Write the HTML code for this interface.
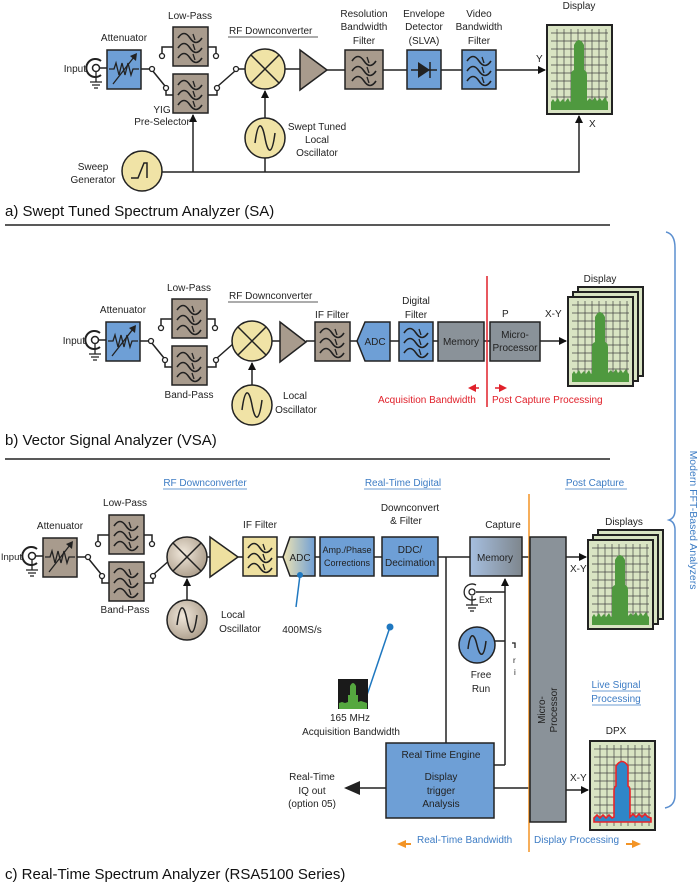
<!DOCTYPE html>
<html><head><meta charset="utf-8"><style>
html,body{margin:0;padding:0;background:#fff}
svg{display:block;font-family:"Liberation Sans",sans-serif}
text{font-size:10px;fill:#222}
.c{text-anchor:middle}
.t{font-size:15px;fill:#111}
.bl{fill:#3d7cc4}
.rd{fill:#e0202a}
</style></head><body>
<svg width="700" height="885" viewBox="0 0 700 885" xmlns="http://www.w3.org/2000/svg">
<defs>
<marker id="ah" markerWidth="8" markerHeight="8" refX="7" refY="4" orient="auto" markerUnits="userSpaceOnUse"><path d="M0 0 L8 4 L0 8Z" fill="#111"/></marker>
<linearGradient id="gadc" x1="0" x2="1"><stop offset="0" stop-color="#eee3b2"/><stop offset="1" stop-color="#6f9fd6"/></linearGradient>
<linearGradient id="gmem" x1="0" x2="1"><stop offset="0" stop-color="#a6bfe0"/><stop offset="1" stop-color="#7e868d"/></linearGradient>
<radialGradient id="gmix" cx="0.4" cy="0.4" r="0.7"><stop offset="0" stop-color="#f0e7da"/><stop offset="1" stop-color="#a69784"/></radialGradient>
<g id="filt">
<path d="M5 11 q6 -9 12 0 t12 0 M5 21 q6 -9 12 0 t12 0 M5 31 q6 -9 12 0 t12 0" fill="none" stroke="#222" stroke-width="1.6"/>
<path d="M20 7 l2 6 M20 17 l2 6 M20 27 l2 6" stroke="#222" stroke-width="1.3"/>
</g>
<g id="grid"><path d="M4 8H61M4 16H61M4 24H61M4 32H61M4 40H61M4 48H61M4 56H61M4 64H61M4 72H61M4 80H61M10 4V85M17 4V85M24 4V85M31 4V85M38 4V85M45 4V85M52 4V85M59 4V85" stroke="#444" stroke-width="0.7"/></g>
<g id="disp">
<rect x="0" y="0" width="65" height="89" fill="#d9e4c3" stroke="#222" stroke-width="2"/>
<use href="#grid"/>
<path d="M4 85 L4 77 l2 -3 l2 3 l3 -4 l2 4 l3 -3 l2 3 l3 -4 l2 4 L24 76 L24 50 Q24 46 27 45 L27 20 Q32 10 37 20 L37 45 Q40 46 40 50 L40 76 l3 -3 l2 3 l3 -4 l2 4 l3 -3 l2 3 l3 -4 l2 4 L61 77 L61 85Z" fill="#4f993f"/>
</g>
<g id="dispstack">
<rect x="10" y="-10" width="65" height="89" fill="#d9e4c3" stroke="#222" stroke-width="2"/>
<rect x="5" y="-5" width="65" height="89" fill="#d9e4c3" stroke="#222" stroke-width="2"/>
<use href="#disp"/>
</g>
<g id="fe">
<circle cx="96" cy="68" r="3.5" fill="#fff" stroke="#222" stroke-width="1.5"/>
<path d="M101 61 A9 9 0 1 0 101 75" fill="none" stroke="#222" stroke-width="2"/>
<path d="M96 72 V82 M90 82 H102 M92 85 H100 M94 88 H98" stroke="#222" stroke-width="1.3"/>
<path d="M100 68 H107" stroke="#222" stroke-width="1.5"/>
<rect x="107" y="50" width="34" height="39" fill="currentColor" stroke="#222" stroke-width="1.5"/>
<polyline points="109,69 114,69 116,63 119,75 122,63 125,75 128,63 131,75 133,69 139,69" fill="none" stroke="#222" stroke-width="1.3"/>
<path d="M113 84 L134 57" stroke="#222" stroke-width="1.3"/><path d="M137 53 L136 61 L130 56Z" fill="#222"/>
<path d="M141 69 H150 M152 70 L165 86 M166 90 V95 H173 M162 53 V47 H173 M208 47 H216 V53 M208 95 H217 V90 M218 86 L235 71" stroke="#222" stroke-width="1.5" fill="none"/>
<circle cx="152" cy="69" r="2.5" fill="#fff" stroke="#222" stroke-width="1.3"/>
<circle cx="166" cy="88" r="2.5" fill="#fff" stroke="#222" stroke-width="1.3"/>
<circle cx="162" cy="56" r="2.5" fill="#fff" stroke="#222" stroke-width="1.3"/>
<circle cx="216" cy="56" r="2.5" fill="#fff" stroke="#222" stroke-width="1.3"/>
<circle cx="217" cy="88" r="2.5" fill="#fff" stroke="#222" stroke-width="1.3"/>
<circle cx="236" cy="69" r="2.5" fill="#fff" stroke="#222" stroke-width="1.3"/>
<rect x="173" y="27" width="35" height="39" fill="#a89b8d" stroke="#222" stroke-width="1.5"/>
<use href="#filt" x="173" y="27"/>
<rect x="173" y="74" width="35" height="39" fill="#a89b8d" stroke="#222" stroke-width="1.5"/>
<use href="#filt" x="173" y="74"/>
</g>
<g id="mix"><circle r="20" stroke="#222" stroke-width="1.5"/><path d="M-14 -14 L14 14 M14 -14 L-14 14" stroke="#222" stroke-width="1.5"/></g>
<g id="sine"><circle r="20" stroke="#222" stroke-width="1.5"/><path d="M-10 5 C-7 -18 -3 -16 0 0 S7 18 10 -5" fill="none" stroke="#222" stroke-width="1.5"/></g>
</defs>

<!-- ===== Section a ===== -->
<use href="#fe" style="color:#6e9fd6"/>
<text x="86" y="72" text-anchor="end">Input</text>
<text class="c" x="124" y="41">Attenuator</text>
<text class="c" x="190" y="19">Low-Pass</text>
<text class="c" x="162" y="113">YIG</text>
<text class="c" x="162" y="125">Pre-Selector</text>
<path d="M238 69 H245" stroke="#222" stroke-width="1.5"/>
<use href="#mix" x="265" y="69" fill="#f0e3a6"/>
<text x="229" y="34">RF Downconverter</text><path d="M228 37 H318" stroke="#222" stroke-width="0.8"/>
<path d="M285 69 H300" stroke="#222" stroke-width="1.5"/>
<polygon points="300,50 327,70 300,90" fill="#a89b8d" stroke="#222" stroke-width="1.5"/>
<path d="M327 70 H345 M383 70 H407 M441 70 H462 M496 70 H545" stroke="#222" stroke-width="1.5" marker-end="url(#ah)"/>
<rect x="345" y="50" width="38" height="39" fill="#a89b8d" stroke="#222" stroke-width="1.5"/><use href="#filt" x="347" y="50"/>
<rect x="407" y="50" width="34" height="39" fill="#6e9fd6" stroke="#222" stroke-width="1.5"/>
<path d="M411 70 H437 M430 62 V78" stroke="#222" stroke-width="1.5"/><polygon points="418,62 430,70 418,78" fill="#222"/>
<rect x="462" y="50" width="34" height="39" fill="#6e9fd6" stroke="#222" stroke-width="1.5"/><use href="#filt" x="462" y="50"/>
<text class="c" x="364" y="17">Resolution</text><text class="c" x="364" y="30">Bandwidth</text><text class="c" x="364" y="44">Filter</text>
<text class="c" x="424" y="17">Envelope</text><text class="c" x="424" y="30">Detector</text><text class="c" x="424" y="44">(SLVA)</text>
<text class="c" x="479" y="17">Video</text><text class="c" x="479" y="30">Bandwidth</text><text class="c" x="479" y="44">Filter</text>
<use href="#disp" x="547" y="25"/>
<text class="c" x="579" y="9">Display</text>
<text x="536" y="62">Y</text><text x="589" y="127">X</text>
<use href="#sine" x="265" y="138" fill="#f0e3a6"/>
<text class="c" x="317" y="130">Swept Tuned</text><text class="c" x="317" y="143">Local</text><text class="c" x="317" y="156">Oscillator</text>
<circle cx="142" cy="171" r="20" fill="#f0e3a6" stroke="#222" stroke-width="1.5"/>
<path d="M131 178 H138 L144 163 H147 V178" fill="none" stroke="#222" stroke-width="1.5"/>
<text class="c" x="93" y="170">Sweep</text><text class="c" x="93" y="183">Generator</text>
<path d="M162 172 H579 V116" fill="none" stroke="#222" stroke-width="1.5" marker-end="url(#ah)"/>
<path d="M193 172 V115" stroke="#222" stroke-width="1.5" marker-end="url(#ah)"/>
<path d="M265 172 V158" stroke="#222" stroke-width="1.5"/>
<path d="M265 118 V91" stroke="#222" stroke-width="1.5" marker-end="url(#ah)"/>
<text class="t" x="5" y="216">a)  Swept Tuned Spectrum Analyzer (SA)</text>
<path d="M5 225 H610" stroke="#222" stroke-width="1.5"/>

<!-- ===== Section b ===== -->
<g transform="translate(-1,272)"><use href="#fe" style="color:#6e9fd6"/></g>
<text x="85" y="344" text-anchor="end">Input</text>
<text class="c" x="123" y="313">Attenuator</text>
<text class="c" x="189" y="291">Low-Pass</text>
<text class="c" x="189" y="398">Band-Pass</text>
<path d="M237 341 H232" stroke="#222" stroke-width="1.5"/>
<use href="#mix" x="252" y="341" fill="#f0e3a6"/>
<text x="229" y="299">RF Downconverter</text><path d="M228 302 H318" stroke="#222" stroke-width="0.8"/>
<path d="M272 341 H280 M306 341 H315 M350 341 H357 M390 341 H399 M433 341 H438 M484 341 H490" stroke="#222" stroke-width="1.5"/>
<polygon points="280,322 306,342 280,362" fill="#a89b8d" stroke="#222" stroke-width="1.5"/>
<rect x="315" y="322" width="35" height="39" fill="#a89b8d" stroke="#222" stroke-width="1.5"/><use href="#filt" x="315" y="322"/>
<text class="c" x="332" y="318">IF Filter</text>
<polygon points="365,322 390,322 390,361 365,361 357,341" fill="#6e9fd6" stroke="#222" stroke-width="1.5"/>
<text class="c" x="375" y="345">ADC</text>
<rect x="399" y="322" width="34" height="39" fill="#6e9fd6" stroke="#222" stroke-width="1.5"/><use href="#filt" x="399" y="322"/>
<text class="c" x="416" y="304">Digital</text><text class="c" x="416" y="318">Filter</text>
<rect x="438" y="322" width="46" height="39" fill="#8a9299" stroke="#222" stroke-width="1.5"/>
<text class="c" x="461" y="345">Memory</text>
<rect x="490" y="322" width="50" height="39" fill="#8a9299" stroke="#222" stroke-width="1.5"/>
<text class="c" x="515" y="338">Micro-</text><text class="c" x="515" y="351">Processor</text>
<text x="502" y="317">P</text><text x="545" y="317">X-Y</text>
<path d="M540 341 H566" stroke="#222" stroke-width="1.5" marker-end="url(#ah)"/>
<use href="#dispstack" x="568" y="297"/>
<text class="c" x="600" y="282">Display</text>
<path d="M487 276 V407" stroke="#e0202a" stroke-width="1.5"/>
<path d="M479 388 H472" stroke="#e0202a" stroke-width="1.5"/><polygon points="468,388 476,384 476,392" fill="#e0202a"/>
<path d="M495 388 H502" stroke="#e0202a" stroke-width="1.5"/><polygon points="507,388 499,384 499,392" fill="#e0202a"/>
<text class="rd" x="378" y="403">Acquisition Bandwidth</text>
<text class="rd" x="492" y="403">Post Capture Processing</text>
<use href="#sine" x="252" y="405" fill="#f0e3a6"/>
<path d="M252 385 V363" stroke="#222" stroke-width="1.5" marker-end="url(#ah)"/>
<text class="c" x="295" y="399">Local</text><text class="c" x="296" y="413">Oscillator</text>
<text class="t" x="5" y="445">b)  Vector Signal Analyzer (VSA)</text>
<path d="M5 459 H610" stroke="#222" stroke-width="1.5"/>

<!-- brace -->
<path d="M666 232 Q675 234 675 248 L675 510 Q675 518 669 520 Q675 522 675 530 L675 795 Q675 806 665 808" fill="none" stroke="#5b8fcf" stroke-width="1.5"/>
<text class="c bl" transform="translate(690,520) rotate(90)" style="font-size:10.5px">Modern FFT-Based Analyzers</text>

<!-- ===== Section c ===== -->
<text class="c bl" x="205" y="486">RF Downconverter</text><path d="M163 489 H247" stroke="#3d7cc4" stroke-width="0.8"/>
<text class="c bl" x="403" y="486">Real-Time Digital</text><path d="M364 489 H441" stroke="#3d7cc4" stroke-width="0.8"/>
<text class="c bl" x="595" y="486">Post Capture</text><path d="M565 489 H627" stroke="#3d7cc4" stroke-width="0.8"/>
<g transform="translate(-64,488)"><use href="#fe" style="color:#a89b8d"/></g>
<text x="22" y="560" text-anchor="end" style="font-size:9.5px">Input</text>
<text class="c" x="60" y="529">Attenuator</text>
<text class="c" x="125" y="506">Low-Pass</text>
<text class="c" x="125" y="613">Band-Pass</text>
<use href="#mix" x="187" y="557" fill="url(#gmix)"/>
<path d="M207 557 H210 M238 557 H243 M277 557 H283 M315 557 H320 M374 557 H382 M438 557 H470 M522 557 H530" stroke="#222" stroke-width="1.5"/>
<polygon points="210,537 238,557 210,577" fill="#eee0a0" stroke="#222" stroke-width="1.5"/>
<rect x="243" y="537" width="34" height="39" fill="#eee0a0" stroke="#222" stroke-width="1.5"/><use href="#filt" x="243" y="537"/>
<text class="c" x="260" y="528">IF Filter</text>
<polygon points="290,537 315,537 315,576 290,576 283,557" fill="url(#gadc)" stroke="#222" stroke-width="1.5"/>
<text class="c" x="300" y="561">ADC</text>
<path d="M300 575 L296 607" stroke="#1f78c0" stroke-width="1.5"/><circle cx="300" cy="575" r="3" fill="#1f78c0"/>
<text class="c" x="302" y="633">400MS/s</text>
<rect x="320" y="537" width="54" height="39" fill="#6e9fd6" stroke="#222" stroke-width="1.5"/>
<text class="c" x="347" y="553" style="font-size:9px">Amp./Phase</text><text class="c" x="347" y="566" style="font-size:9px">Corrections</text>
<rect x="382" y="537" width="56" height="39" fill="#6e9fd6" stroke="#222" stroke-width="1.5"/>
<text class="c" x="410" y="553">DDC/</text><text class="c" x="410" y="566">Decimation</text>
<text class="c" x="410" y="511">Downconvert</text><text class="c" x="406" y="524">&amp; Filter</text>
<rect x="470" y="537" width="52" height="39" fill="url(#gmem)" stroke="#222" stroke-width="1.5"/>
<text class="c" x="495" y="561">Memory</text>
<text class="c" x="503" y="528">Capture</text>
<use href="#sine" x="187" y="620" fill="url(#gmix)"/>
<path d="M187 600 V579" stroke="#222" stroke-width="1.5" marker-end="url(#ah)"/>
<text class="c" x="233" y="618">Local</text><text class="c" x="240" y="632">Oscillator</text>
<path d="M446 557 V743" stroke="#222" stroke-width="1.5"/>
<path d="M505 765 V579" stroke="#222" stroke-width="1.5" marker-end="url(#ah)"/>
<path d="M505 765 H494 M494 641 H505 M476 592 H505" stroke="#222" stroke-width="1.5"/>
<circle cx="472" cy="592" r="3" fill="#fff" stroke="#222" stroke-width="1.3"/>
<path d="M476 585 A8 8 0 1 0 476 599 M472 596 V605 M466 605 H478 M468 608 H476 M470 611 H474" fill="none" stroke="#222" stroke-width="1.3"/>
<text x="479" y="603" style="font-size:9px">Ext</text>
<circle cx="477" cy="645" r="18" fill="#6e9fd6" stroke="#222" stroke-width="1.5"/>
<path d="M468 649 C470 632 474 632 477 645 S484 658 486 641" fill="none" stroke="#222" stroke-width="1.5"/>
<text class="c" x="481" y="678">Free</text><text class="c" x="481" y="692">Run</text>
<path d="M512 643 H515 V648" fill="none" stroke="#222" stroke-width="1.3"/>
<text x="513" y="663" style="font-size:8px">r</text><text x="514" y="675" style="font-size:8px">i</text>
<path d="M390 627 L367 695" stroke="#1f78c0" stroke-width="1.5"/><circle cx="390" cy="627" r="3.5" fill="#1f78c0"/>
<rect x="338" y="679" width="30" height="30" fill="#1a1a1a"/>
<path d="M339 709 L339 703 l3 -1 l3 1 L348 702 L348 695 L350 695 L350 686 Q353 680 356 686 L356 695 L358 695 L358 702 l3 -1 l3 1 L367 703 L367 709Z" fill="#55a83f"/>
<text class="c" x="350" y="721">165 MHz</text><text class="c" x="351" y="735">Acquisition Bandwidth</text>
<rect x="386" y="743" width="108" height="75" fill="#6e9fd6" stroke="#222" stroke-width="1.5"/>
<text class="c" x="441" y="758">Real Time Engine</text>
<text class="c" x="441" y="780">Display</text><text class="c" x="441" y="794">trigger</text><text class="c" x="441" y="807">Analysis</text>
<path d="M386 788 H346" stroke="#222" stroke-width="1.5"/><polygon points="344,788 360,781 360,795" fill="#222"/>
<text class="c" x="312" y="780">Real-Time</text><text class="c" x="312" y="794">IQ out</text><text class="c" x="312" y="807">(option 05)</text>
<path d="M494 788 H530" stroke="#222" stroke-width="1.5"/>
<path d="M529 494 V852" stroke="#f39425" stroke-width="1.5"/>
<rect x="530" y="537" width="36" height="285" fill="#8a9299" stroke="#222" stroke-width="1.5"/>
<text class="c" transform="translate(545,710) rotate(-90)">Micro-</text>
<text class="c" transform="translate(557,710) rotate(-90)">Processor</text>
<path d="M566 557 H586" stroke="#222" stroke-width="1.5" marker-end="url(#ah)"/>
<text x="570" y="572">X-Y</text>
<use href="#dispstack" x="588" y="540"/>
<text class="c" x="624" y="525">Displays</text>
<text class="c bl" x="616" y="688">Live Signal</text><path d="M592 691 H641" stroke="#3d7cc4" stroke-width="0.8"/>
<text class="c bl" x="616" y="702">Processing</text><path d="M592 705 H641" stroke="#3d7cc4" stroke-width="0.8"/>
<path d="M566 790 H588" stroke="#222" stroke-width="1.5" marker-end="url(#ah)"/>
<text x="570" y="781">X-Y</text>
<g transform="translate(590,741)">
<rect x="0" y="0" width="65" height="89" fill="#d9e4c3" stroke="#222" stroke-width="2"/>
<use href="#grid"/>
<path d="M4 81 L4 77 l3 -3 l3 3 l3 -3 l3 3 l3 -3 l3 3 L24 76 L24 50 Q24 46 26 45 L26 25 Q32 16 38 25 L38 45 Q40 46 40 50 L40 76 l3 -3 l3 3 l3 -3 l3 3 l3 -3 l3 3 L61 77 L61 81Z" fill="#2f86c8" stroke="#e8242a" stroke-width="1.6"/>
</g>
<text class="c" x="616" y="734">DPX</text>
<polygon points="397,844 406,840 406,848" fill="#f39425"/><path d="M405 844 H411" stroke="#f39425" stroke-width="2"/>
<text class="bl" x="417" y="843">Real-Time Bandwidth</text>
<text class="bl" x="534" y="843">Display Processing</text>
<polygon points="641,844 632,840 632,848" fill="#f39425"/><path d="M626 844 H633" stroke="#f39425" stroke-width="2"/>
<text class="t" x="5" y="879">c)  Real-Time Spectrum Analyzer (RSA5100 Series)</text>
</svg>
</body></html>
